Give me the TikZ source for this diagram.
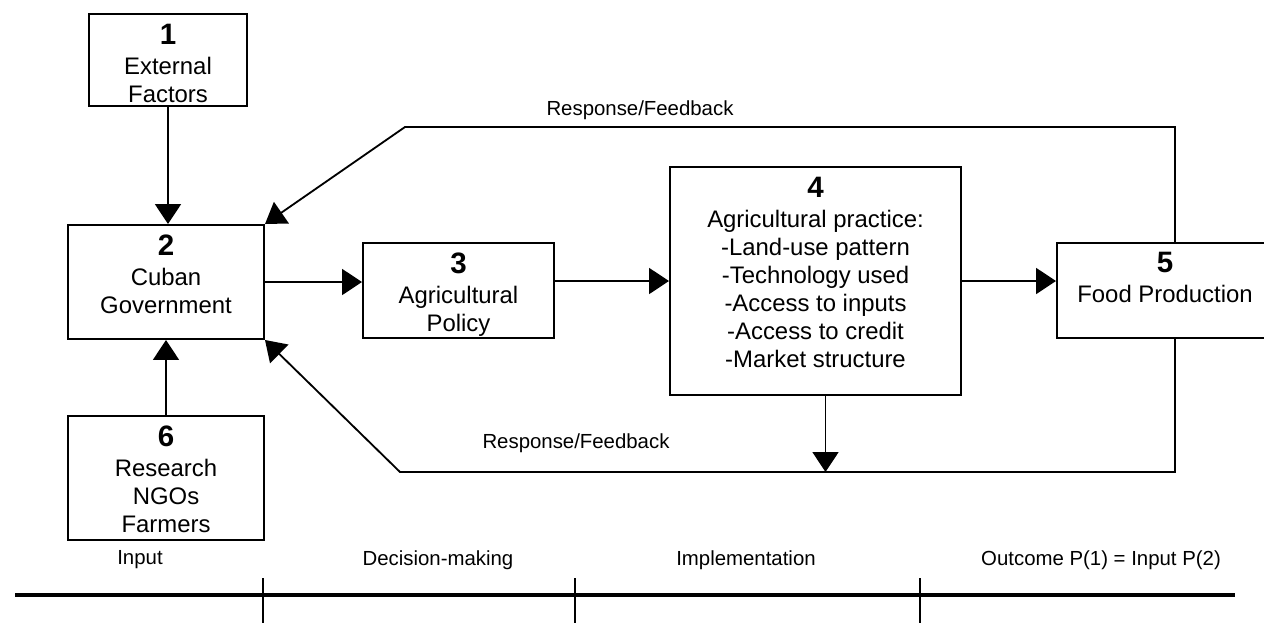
\documentclass[tikz,border=0pt]{standalone}
\usepackage{fontspec}
\setmainfont{Liberation Sans}
\usetikzlibrary{arrows.meta,positioning,calc}

\tikzset{
  box/.style={draw, rectangle, line width=1.4pt, inner sep=0pt},
  boxtext/.style={align=center, inner sep=0pt, font=\fontsize{17}{20}\selectfont},
  arr/.style={line width=1.3pt, -{Triangle[length=5mm,width=6.5mm]}},
  fbtext/.style={inner sep=0pt, font=\fontsize{14.5}{17}\selectfont},
}
\newcommand{\bnum}[1]{{\fontsize{21}{24}\selectfont\bfseries #1}}

\begin{document}
\begin{tikzpicture}[x=0.25mm, y=-0.25mm]
    \useasboundingbox (0,0) rectangle (1264,623);
    \clip (0,0) rectangle (1264,623);

    % the six boxes: name/x/y/width/height
    \foreach \i/\x/\y/\w/\h in {%
        1/168/60/39.5/23,
        2/166/282/49/28.5,
        3/458.5/290.5/47.75/23.75,
        4/815.5/281/72.75/57,
        5/1165/290.5/54/23.75,
        6/166/478/49/31%
        }{
        \node[box, minimum width=\w mm, minimum height=\h mm] (n\i) at (\x,\y) {};
    }

    \node[boxtext, below=2.6mm of n1.north] (t1) {\bnum{1}\\[1.4pt]External\\Factors};
    \node[boxtext, below=2.6mm of n2.north] (t2) {\bnum{2}\\[1.4pt]Cuban\\Government};
    \node[boxtext, below=2.6mm of n3.north] (t3) {\bnum{3}\\[1.4pt]Agricultural\\Policy};
    \node[boxtext, below=2.6mm of n4.north] (t4) {\bnum{4}\\[1.4pt]Agricultural practice:\\-Land-use pattern\\-Technology used\\-Access to inputs\\-Access to credit\\-Market structure};
    \node[boxtext, below=2.4mm of n5.north] (t5) {\bnum{5}\\[1.4pt]Food Production};
    \node[boxtext, below=2.6mm of n6.north] (t6) {\bnum{6}\\[1.4pt]Research\\NGOs\\Farmers};

    % main flow
    \draw[arr] (n1.south) -- (n1.south |- n2.north);
    \draw[arr] (n6.north) -- (n2.south);
    \draw[arr] (n2.east) -- (n2.east -| n3.west);
    \draw[arr] (n4.west -| n3.east) -- (n4.west);
    \draw[arr] (n4.east) -- (n4.east -| n5.west);

    % feedback loops
    \coordinate (fbtop) at (405,127);
    \coordinate (fbbot) at (400,472);
    \draw[arr] ([xshift=2.5mm]n5.north) |- (fbtop) -- (n2.north east);
    \draw[arr] ([xshift=2.5mm]n5.south) |- (fbbot) -- (n2.south east);
    \draw[arr] ([xshift=2.5mm]n4.south) -- ([xshift=2.5mm]n4.south |- fbbot);

    \node[fbtext] (fb1) at (640,110) {Response/Feedback};
    \node[fbtext] (fb2) at (576,443) {Response/Feedback};

    % phases along the bottom
    \draw[line width=2.8pt] (15,595) -- (1235,595);
    \foreach \x in {263,575,920}{
        \draw[line width=1pt] (\x,578) -- (\x,623);
    }
    \node[fbtext] (p1) at (140,560) {Input};
    \node[fbtext] (p2) at (438,560) {Decision-making};
    \node[fbtext] (p3) at (746,560) {Implementation};
    \node[fbtext] (p4) at (1101,560) {Outcome P(1) = Input P(2)};

\end{tikzpicture}
\end{document}
